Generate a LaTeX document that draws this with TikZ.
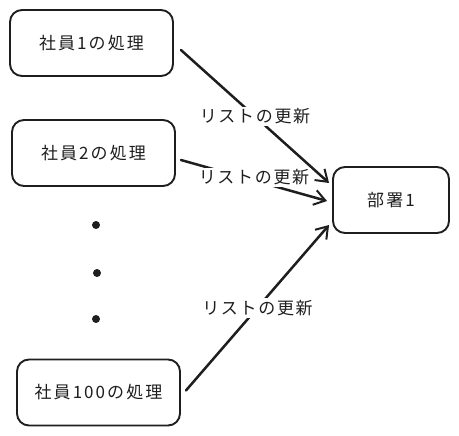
\documentclass[tikz,border=0pt]{standalone}
\usepackage{fontspec}
\setmainfont{Noto Sans CJK JP}
\usetikzlibrary{arrows.meta}

\definecolor{ink}{HTML}{1E1E1E}

\tikzset{
  proc/.style={draw=ink, line width=1.9pt, rounded corners=12pt,
    minimum width=163pt, minimum height=66pt, text=ink,
    font=\fontsize{17}{19}\selectfont\addfontfeature{LetterSpace=12}},
  flow/.style={draw=ink, line width=2.5pt, line cap=round,
    -{Straight Barb[length=11pt,width=15pt,line width=2pt]}},
  lbl/.style={fill=white, inner sep=2pt, text=ink,
    font=\fontsize{17}{19}\selectfont\addfontfeature{LetterSpace=10}}
}

\begin{document}
\begin{tikzpicture}[x=1pt, y=-1pt]

    % Fix the page to the size of the reference
    \useasboundingbox (0,0) rectangle (459,436);

    % Employee processes on the left
    \node[proc] (emp1)   at (91.5, 43)    {社員1の処理};    % Top box
    \node[proc] (emp2)   at (93.5, 153)   {社員2の処理};    % Second box
    \node[proc] (emp100) at (98.5, 392.5) {社員100の処理};  % Bottom box

    % Department on the right
    \node[proc, minimum width=116pt] (dept) at (391, 200) {部署1};

    % Dots for the omitted employees
    \fill[ink] (96, 225) circle (4);
    \fill[ink] (97, 273) circle (4);
    \fill[ink] (96, 319) circle (4);

    % Arrows from each employee to the department
    \draw[flow] ([shift={(7,7)}]emp1.east) -- ([shift={(-3,-17)}]dept.west)
        node[lbl, pos=0.5] (upd1) {リストの更新};
    \draw[flow] ([shift={(5,7)}]emp2.east) -- ([shift={(-5,1)}]dept.west)
        node[lbl, pos=0.5, yshift=3pt] (upd2) {リストの更新};
    \draw[flow] ([shift={(5,-2)}]emp100.east) -- ([shift={(-3,25)}]dept.west)
        node[lbl, pos=0.5] (upd100) {リストの更新};

\end{tikzpicture}
\end{document}
